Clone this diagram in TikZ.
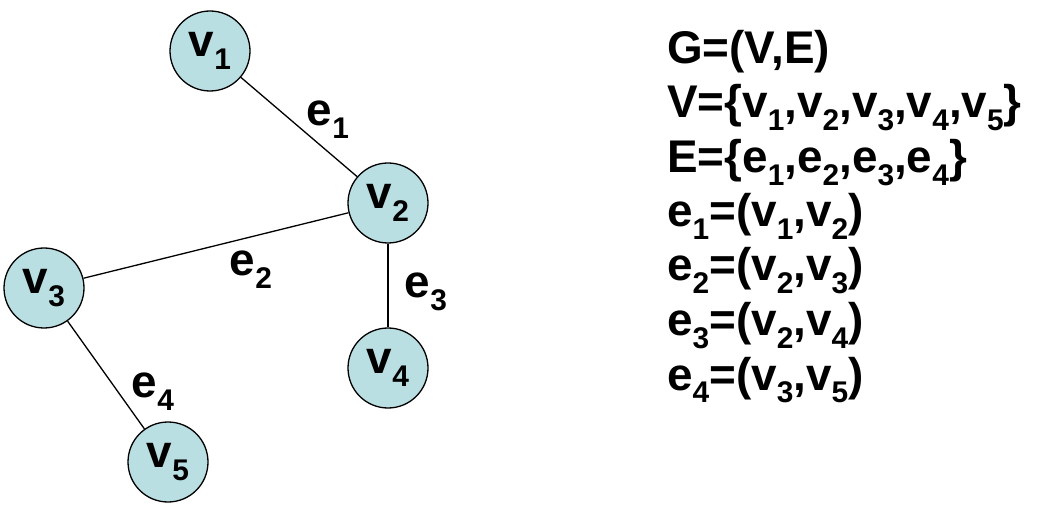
\documentclass[tikz,border=0pt]{standalone}
\usepackage{fontspec}
\setmainfont{Liberation Sans}
\newcommand\sbs[1]{\raisebox{-0.28em}{\fontsize{30}{30}\selectfont #1}}
\definecolor{nodefill}{RGB}{186,223,226}
\begin{document}
\begin{tikzpicture}[x=1bp,y=-1bp,
  vertex/.style={circle,draw,line width=1.3bp,fill=nodefill,minimum size=80bp,inner sep=0pt,font=\fontsize{46}{46}\selectfont\bfseries},
  elabel/.style={font=\fontsize{46}{46}\selectfont\bfseries,inner sep=0pt},
  edge/.style={line width=1.3bp},
  line/.style={anchor=base west,inner sep=0pt,font=\fontsize{46}{46}\selectfont\bfseries}]
\useasboundingbox (0,0) rectangle (1048,514);
\node[vertex] (v1) at (210,51) {v\sbs{1}};
\node[vertex] (v2) at (388,203) {v\sbs{2}};
\node[vertex] (v3) at (44,288) {v\sbs{3}};
\node[vertex] (v4) at (388,368) {v\sbs{4}};
\node[vertex] (v5) at (168,462) {v\sbs{5}};
\draw[edge] (v1) -- (v2);
\draw[edge] (v2) -- (v3);
\draw[edge] (v2) -- (v4);
\draw[edge] (v3) -- (v5);
\node[elabel] (l1) at (328,120) {e\sbs{1}};
\node[elabel] (l2) at (251,270) {e\sbs{2}};
\node[elabel] (l3) at (426,292) {e\sbs{3}};
\node[elabel] (l4) at (153,392) {e\sbs{4}};
\node[line] (t1) at (667,64) {G=(V,E)};
\node[line] (t2) at (667,118) {V=\{v\sbs{1},v\sbs{2},v\sbs{3},v\sbs{4},v\sbs{5}\}};
\node[line] (t3) at (667,173) {E=\{e\sbs{1},e\sbs{2},e\sbs{3},e\sbs{4}\}};
\node[line] (t4) at (667,227) {e\sbs{1}=(v\sbs{1},v\sbs{2})};
\node[line] (t5) at (667,281) {e\sbs{2}=(v\sbs{2},v\sbs{3})};
\node[line] (t6) at (667,336) {e\sbs{3}=(v\sbs{2},v\sbs{4})};
\node[line] (t7) at (667,390) {e\sbs{4}=(v\sbs{3},v\sbs{5})};
\end{tikzpicture}
\end{document}
